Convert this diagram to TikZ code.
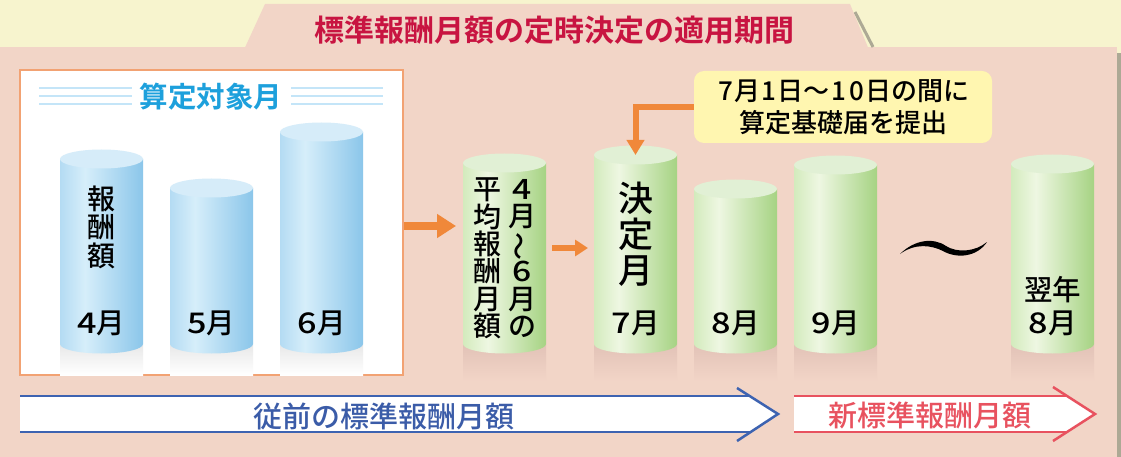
\documentclass[tikz,border=0pt]{standalone}
\usepackage{fontspec}
\setmainfont{Noto Sans CJK JP Medium}[BoldFont={Noto Sans CJK JP Bold}]
\usetikzlibrary{arrows.meta}
\definecolor{bgyellow}{HTML}{F7F4CE}
\definecolor{bgpink}{HTML}{F2D5C7}
\definecolor{shadowgray}{HTML}{ADA995}
\definecolor{boxorange}{HTML}{F2A273}
\definecolor{arrorange}{HTML}{F0883A}
\definecolor{titlered}{HTML}{C81441}
\definecolor{headblue}{HTML}{1DA0DC}
\definecolor{linelblue}{HTML}{C4E5F8}
\definecolor{cbA}{HTML}{B4DBF3}
\definecolor{cbB}{HTML}{D6EEFA}
\definecolor{cbC}{HTML}{8BC6EA}
\definecolor{cbTop}{HTML}{D6ECF9}
\definecolor{cgA}{HTML}{D3EBBD}
\definecolor{cgB}{HTML}{EEF7E2}
\definecolor{cgC}{HTML}{A6D383}
\definecolor{cgTop}{HTML}{E1F0D5}
\definecolor{calloutyellow}{HTML}{FFF6B0}
\definecolor{oldblue}{HTML}{3D63B1}
\definecolor{oldtext}{HTML}{3B5CA8}
\definecolor{newred}{HTML}{E8525F}
\definecolor{reflpink}{HTML}{E2C2B7}
\definecolor{reflgray}{HTML}{E8E8E8}
\pgfdeclarehorizontalshading{cylblue}{100bp}{color(0bp)=(cbA); color(25bp)=(cbA); color(40bp)=(cbB); color(75bp)=(cbC); color(100bp)=(cbC)}
\pgfdeclarehorizontalshading{cylgreen}{100bp}{color(0bp)=(cgA); color(25bp)=(cgA); color(40bp)=(cgB); color(75bp)=(cgC); color(100bp)=(cgC)}
\tikzset{
  reflblue/.style={top color=reflgray, bottom color=white},
  reflgreen/.style={top color=reflpink, bottom color=bgpink},
  capblue/.style={fill=cbTop},
  capgreen/.style={fill=cgTop},
  lbl/.style={inner sep=0pt, font=\fontsize{28.5}{28.5}\selectfont},
  vtext/.style={inner sep=0pt, align=center, font=\fontsize{28}{28.5}\selectfont},
  oarrow/.style={draw=arrorange},
}
% #1 name, #2 x left, #3 top centre y, #4 bottom centre y, #5 kind, #6 reflection bottom y
\newcommand\drawcyl[6]{%
  \shade[refl#5] (#2,#4) rectangle ({#2+83},#6);
  \shade[shading=cyl#5] (#2,#3) -- (#2,#4) arc[start angle=180,end angle=360,x radius=41.5pt,y radius=9.5pt] -- ({#2+83},#3) -- cycle;
  \path[cap#5] ({#2+41.5},#3) ellipse[x radius=41.5pt,y radius=9.5pt];
  \coordinate (#1) at ({#2+41.5},#3);
  \coordinate (#1-w) at (#2,#3);
  \coordinate (#1-e) at ({#2+83},#3);
}
\newcommand\dg[1]{\makebox[0.68em]{#1}}
\newcommand\wdig[1]{\scalebox{1.2}[1]{#1}}
\newcommand\vtilde{\makebox[1em]{\smash{\rotatebox[origin=c]{90}{〜}}}\vphantom{月}}
\begin{document}
\begin{tikzpicture}[x=1pt,y=-1pt]
\useasboundingbox (0,0) rectangle (1121,457);
% backgrounds
\fill[bgyellow] (0,0) rectangle (1121,457);
\fill[shadowgray] (1117,53) rectangle (1121,457);
\fill[bgpink] (0,47) rectangle (1117,457);
\draw[shadowgray, line width=3pt] (855,12) -- (873,47);
\fill[bgpink] (245,47.5) -- (265,4) -- (850,4) -- (868,47.5) -- cycle;
\node[inner sep=0pt, text=titlered, font=\bfseries\fontsize{30}{30}\selectfont] (title) at (554,30) {標準報酬月額の定時決定の適用期間};
% left box
\node[draw=boxorange, fill=white, line width=1.5pt, minimum width=383pt, minimum height=305pt, inner sep=0pt] (tbox) at (211.5,222.5) {};
\foreach \yy in {88,96,104}{
  \draw[linelblue, line width=1.6pt] (39,\yy) -- (132,\yy);
  \draw[linelblue, line width=1.6pt] (291,\yy) -- (383,\yy);
}
\node[inner sep=0pt, text=headblue, font=\bfseries\fontsize{28.5}{28.5}\selectfont] (boxtitle) at (211,97) {算定対象月};
% blue cylinders
\drawcyl{c4}{60}{159}{344}{blue}{375}
\drawcyl{c5}{170}{188}{344}{blue}{375}
\drawcyl{c6}{280}{132}{344}{blue}{375}
\node[vtext] (hk) at (101.5,227) {報\\酬\\額};
\node[lbl] (l4) at (101.5,323) {\wdig{4}月};
\node[lbl] (l5) at (211.5,323) {\wdig{5}月};
\node[lbl] (l6) at (321.5,323) {\wdig{6}月};
% green cylinders
\drawcyl{cav}{463}{163}{344}{green}{381}
\drawcyl{c7}{594}{155}{344}{green}{381}
\drawcyl{c8}{694}{189}{344}{green}{381}
\drawcyl{c9}{794}{165}{344}{green}{381}
\drawcyl{cn}{1011}{164}{344}{green}{381}
\node[vtext, font=\fontsize{28}{27.4}\selectfont] (avg1) at (487.5,258.5) {平\\均\\報\\酬\\月\\額};
\node[vtext, font=\fontsize{28}{27.4}\selectfont] (avg2) at (522,258.5) {\wdig{4}\\月\\\vtilde\\\wdig{6}\\月\\の};
\node[vtext, font=\fontsize{35}{36}\selectfont] (kettei) at (635.5,234) {決\\定\\月};
\node[lbl] (l7) at (635.5,323) {\wdig{7}月};
\node[lbl] (l8) at (735.5,323) {\wdig{8}月};
\node[lbl] (l9) at (835.5,323) {\wdig{9}月};
\node[lbl, align=center, font=\fontsize{28.5}{33}\selectfont] (lnext) at (1052.5,306.5) {翌年\\\wdig{8}月};
% wave
\fill[black] (900,254) .. controls (914,240) and (933,237) .. (946,246)
  .. controls (957,253) and (975,252) .. (987,242)
  .. controls (977,257) and (957,259) .. (943,251)
  .. controls (931,245) and (915,243) .. (900,254) -- cycle;
% callout
\node[fill=calloutyellow, rounded corners=10pt, minimum width=298pt, minimum height=72pt, inner sep=0pt, align=center, font=\fontsize{26}{32}\selectfont] (call) at (843,107) {\dg{7}月\dg{1}日〜\dg{1}\dg{0}日の間に\\算定基礎届を提出};
\draw[oarrow, line width=6pt, -{Triangle[length=15pt,width=17pt]}] (call.west) -| (c7);
% orange arrows
\coordinate (avgin) at (456,226);
\draw[oarrow, line width=7.5pt, -{Triangle[length=19pt,width=23pt]}] (tbox.east |- avgin) -- (avgin);
\coordinate (k7in) at (588,248);
\draw[oarrow, line width=6pt, -{Triangle[length=13pt,width=16pt]}] (cav-e |- k7in) ++(6,0) -- (k7in);
% bottom arrows
\fill[white] (20,396) -- (750,396) -- (778,414) -- (750,432) -- (20,432) -- cycle;
\draw[oldblue, line width=2.5pt] (20,396) -- (750,396) (20,432) -- (750,432);
\draw[oldblue, line width=2.5pt] (737,388) -- (778,414) -- (737,441);
\node[inner sep=0pt, text=oldtext, font=\fontsize{29}{29}\selectfont] (oldlbl) at (384,416) {従前の標準報酬月額};
\fill[white] (794,396) -- (1067,396) -- (1095,414) -- (1067,432) -- (794,432) -- cycle;
\draw[newred, line width=2.5pt] (794,396) -- (1067,396) (794,432) -- (1067,432);
\draw[newred, line width=2.5pt] (1053,387) -- (1095,414) -- (1053,441);
\node[inner sep=0pt, text=newred, font=\fontsize{29}{29}\selectfont] (newlbl) at (930,415) {新標準報酬月額};
\end{tikzpicture}
\end{document}
